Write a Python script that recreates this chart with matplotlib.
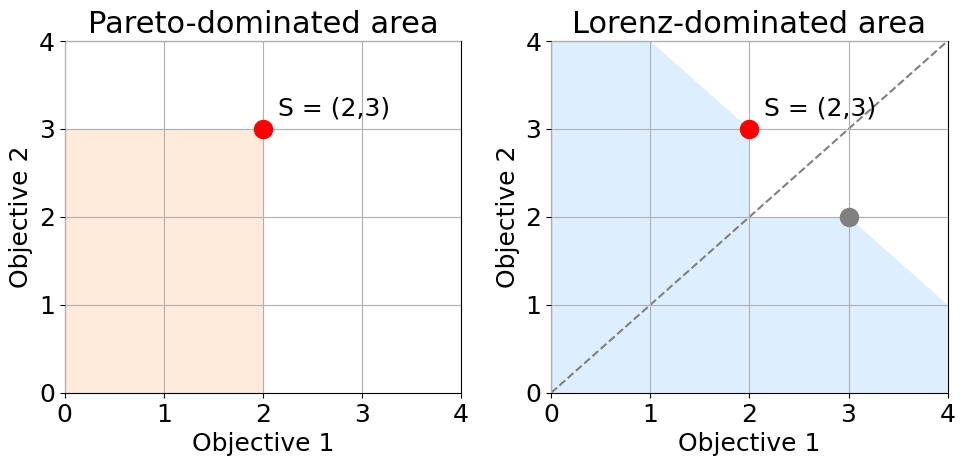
import matplotlib
matplotlib.use("Agg")
import matplotlib.pyplot as plt

# Data
s_point = (2, 3)
s_label = "S = (2,3)"
perm_point = (3, 2)
pareto_x = [0, 2, 2, 0]
pareto_y = [0, 0, 3, 3]
lorenz_x = [0, 0, 1, 2, 2, 3, 4, 4]
lorenz_y = [0, 4, 4, 3, 2, 2, 1, 0]
diag = [0, 4]
ticks = [0, 1, 2, 3, 4]

fig, axes = plt.subplots(1, 2, figsize=(9.65, 4.66), dpi=100)
fig.subplots_adjust(left=0.067, right=0.982, bottom=0.157, top=0.912, wspace=0.227)

for ax in axes:
    ax.set_xlim(0, 4)
    ax.set_ylim(0, 4)
    ax.set_xticks(ticks)
    ax.set_yticks(ticks)
    ax.grid(True, color="#b0b0b0", linewidth=0.8)
    ax.set_axisbelow(False)
    ax.tick_params(labelsize=18)
    ax.set_xlabel("Objective 1", fontsize=18)
    ax.set_ylabel("Objective 2", fontsize=18)

ax = axes[0]
ax.fill(pareto_x, pareto_y, color="tab:orange", alpha=0.15, linewidth=0, zorder=0)
ax.plot([s_point[0]], [s_point[1]], "o", color="red", markersize=13, zorder=3, clip_on=False)
ax.text(s_point[0] + 0.15, s_point[1] + 0.15, s_label, fontsize=18)
ax.set_title("Pareto-dominated area", fontsize=22)

ax = axes[1]
ax.fill(lorenz_x, lorenz_y, color="dodgerblue", alpha=0.15, linewidth=0, zorder=0)
ax.plot(diag, diag, "--", color="gray", linewidth=1.5, zorder=2)
ax.plot([s_point[0]], [s_point[1]], "o", color="red", markersize=13, zorder=3, clip_on=False)
ax.plot([perm_point[0]], [perm_point[1]], "o", color="gray", markersize=13, zorder=3, clip_on=False)
ax.text(s_point[0] + 0.15, s_point[1] + 0.15, s_label, fontsize=18)
ax.set_title("Lorenz-dominated area", fontsize=22)

fig.savefig("out.png", dpi=100)
